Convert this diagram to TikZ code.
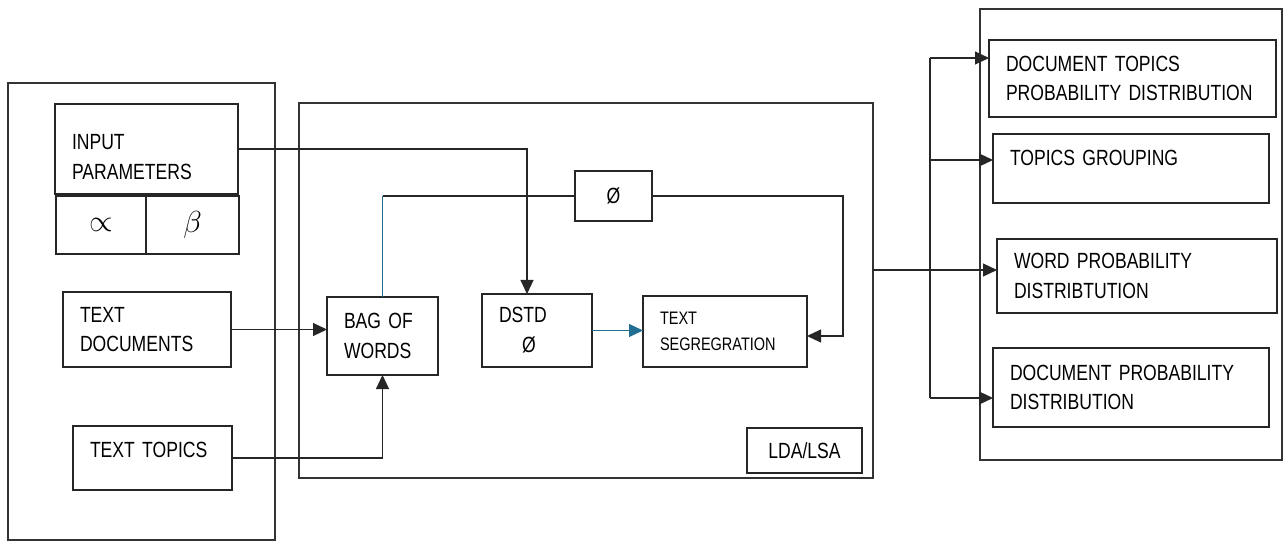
\documentclass[tikz,border=0pt]{standalone}
\usepackage{fontspec}
\setmainfont{Liberation Sans}[FakeStretch=0.8]
\usetikzlibrary{positioning,arrows.meta}
\definecolor{linkblue}{HTML}{216E93}
\newcommand\boxfont{\fontsize{12.5}{17}\selectfont\spaceskip=0.14em\relax}
\newcommand\smallboxfont{\fontsize{10.3}{14.8}\selectfont\spaceskip=0.14em\relax}
\tikzset{
  panel/.style 2 args={draw=black!80, line width=0.6pt, anchor=north west,
    inner sep=0pt, outer sep=0pt, minimum width=#1, minimum height=#2},
  blk/.style 2 args={draw=black!85, line width=0.7pt, anchor=north west,
    align=left, inner xsep=3.4mm, inner ysep=0pt, outer sep=0pt,
    minimum width=#1, text width=#1-6.8mm, minimum height=#2, font=\boxfont},
  cell/.style 2 args={draw=black!85, line width=0.7pt, anchor=north west,
    inner sep=0pt, outer sep=0pt, minimum width=#1, minimum height=#2,
    font=\boxfont},
  plain/.style={draw=black!85, line width=0.6pt},
  blink/.style={draw=linkblue, line width=0.6pt},
  tip/.style={-{Triangle[length=2.8mm,width=2.6mm]}},
  link/.style={plain, tip},
}

\begin{document}
\begin{tikzpicture}[x=0.2mm, y=-0.2mm]
  \useasboundingbox (0,0) rectangle (1284,545);

  % panels
  \node[panel={53.4mm}{91.4mm}] (leftp) at (8,83) {};
  \node[panel={114.8mm}{75mm}] (midp) at (299,103) {};
  \node[panel={60.4mm}{90.2mm}] (rightp) at (980,9) {};

  % inputs
  \node[blk={36.6mm}{18mm}, text depth=2.8mm] (inpar) at (55,104) {INPUT\\PARAMETERS};
  \node[cell={18mm}{11.6mm}] (alpha) at (56,196) {\LARGE$\propto$};
  \node[cell={18.6mm}{11.6mm}] (beta) at (146,196) {\LARGE$\beta$};
  \node[blk={33.6mm}{15mm}] (textdoc) at (63,292) {TEXT\\DOCUMENTS};
  \node[blk={31.8mm}{12.8mm}, text depth=3.2mm] (texttop) at (73,426) {TEXT TOPICS};

  % LDA/LSA block
  \node[blk={22.2mm}{15.6mm}] (bow) at (327,297) {BAG OF\\WORDS};
  \node[blk={22mm}{14.6mm}] (dstd) at (482,294) {DSTD\\\hspace*{4.6mm}Ø};
  \node[cell={15.4mm}{10mm}] (phi) at (575,171) {Ø};
  \node[blk={32.8mm}{14.2mm}, font=\smallboxfont] (seg) at (643,296) {TEXT\\SEGREGRATION};
  \node[cell={23mm}{9mm}] (lda) at (747,428) {LDA/LSA};

  % outputs
  \node[blk={57.4mm}{15.4mm}] (dtpd) at (989,40) {DOCUMENT TOPICS\\PROBABILITY DISTRIBUTION};
  \node[blk={55.2mm}{13.8mm}, text depth=4.4mm] (tg) at (993,134) {TOPICS GROUPING};
  \node[blk={56mm}{14.8mm}] (wpd) at (997,239) {WORD PROBABILITY\\DISTRIBTUTION};
  \node[blk={55.2mm}{15.8mm}] (dpd) at (993,348) {DOCUMENT PROBABILITY\\DISTRIBUTION};

  % connectors
  \draw[link] (inpar.east) -| ([xshift=-2mm]dstd.north);
  \coordinate (bend) at (bow.north |- phi.west);
  \draw[blink] (bow.north) -- (bend);
  \draw[plain] (bend) -- (phi.west);
  \draw[link] (phi.east) -| ([xshift=7.2mm,yshift=-0.9mm]seg.east) -- ([yshift=-0.9mm]seg.east);
  \draw[blink, tip] (dstd.east) -- (dstd.east -| seg.west);
  \draw[link] (textdoc.east) -- (textdoc.east -| bow.west);
  \draw[link] (texttop.east) -| (bow.south);

  \coordinate (wpdin) at ([yshift=1.2mm]wpd.west);
  \draw[link] (midp.east |- wpdin) -- (wpdin);
  \coordinate (bustop) at (930,58);
  \coordinate (busbot) at (930,398);
  \coordinate (tgin) at ([yshift=1.7mm]tg.west);
  \draw[plain] (bustop) -- (busbot);
  \draw[link] (bustop) -- (bustop -| dtpd.west);
  \draw[link] (bustop |- tgin) -- (tgin);
  \draw[link] (busbot) -- (busbot -| dpd.west);
\end{tikzpicture}
\end{document}
